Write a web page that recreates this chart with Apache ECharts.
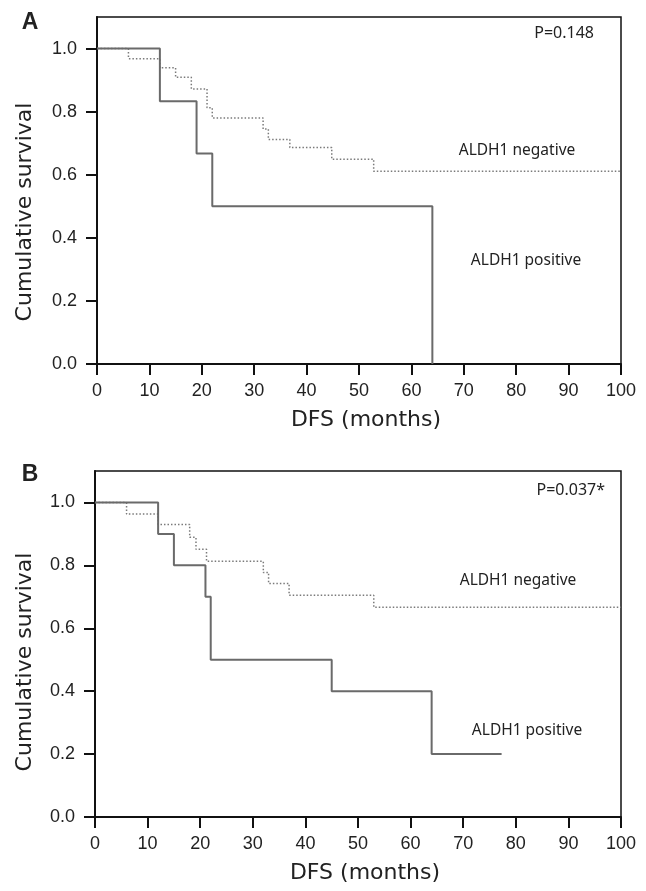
<!DOCTYPE html>
<html>
<head>
<meta charset="utf-8">
<script src="https://cdn.jsdelivr.net/npm/echarts@6/dist/echarts.min.js"></script>
<style>
  html, body { margin: 0; padding: 0; background: #fff; }
  #main { width: 646px; height: 891px; }
</style>
</head>
<body>
<div id="main"></div>
<script>
// Panel A: [months, cumulative survival]
const negA = [[0, 1], [6, 0.968], [12, 0.939], [15, 0.909], [18, 0.872], [21, 0.812], [22, 0.78],
  [31.7, 0.745], [32.7, 0.712], [36.8, 0.686], [44.8, 0.649], [52.8, 0.611], [100, 0.611]];
const posA = [[0, 1], [12, 0.833], [19, 0.667], [22, 0.5], [64, 0]];
// Panel B
const negB = [[0, 1], [6, 0.963], [12, 0.93], [18, 0.889], [19.2, 0.851], [21.2, 0.813],
  [32, 0.777], [33, 0.742], [36.9, 0.705], [53, 0.667], [100, 0.667]];
const posB = [[0, 1], [12, 0.9], [15, 0.8], [21, 0.7], [22, 0.5], [45, 0.4], [64, 0.2], [77.3, 0.2]];

const yTicks = [0, 0.2, 0.4, 0.6, 0.8, 1.0];
const pValues = ['P=0.148', 'P=0.037*'];

const myChart = echarts.init(document.getElementById('main'));

const tickFont = { fontFamily: 'Liberation Sans', fontSize: 18, color: '#222' };
const labelFont = 'Noto Sans';

function xAxis(gridIndex) {
    return {
        type: 'value', gridIndex: gridIndex, min: 0, max: 100, interval: 10,
        name: 'DFS (months)', nameLocation: 'middle', nameGap: 45,
        nameTextStyle: { fontFamily: 'DejaVu Sans', fontSize: 22, color: '#222', padding: [0, 0, 0, 14] },
        axisLine: { lineStyle: { color: '#111', width: 2 } },
        axisTick: { length: 11, lineStyle: { color: '#111', width: 2 } },
        axisLabel: Object.assign({ margin: 18 }, tickFont),
        splitLine: { show: false }
    };
}

function yAxis(gridIndex) {
    return {
        type: 'value', gridIndex: gridIndex, min: 0, max: 1.1, interval: 0.2,
        axisLine: { show: true, lineStyle: { color: '#111', width: 2 } },
        axisTick: { show: true, length: 11, customValues: yTicks, lineStyle: { color: '#111', width: 2 } },
        axisLabel: Object.assign({
            margin: 20, customValues: yTicks,
            formatter: v => v.toFixed(1)
        }, tickFont),
        splitLine: { show: false }
    };
}

function solid(data, i) {
    return {
        type: 'line', step: 'end', data: data, xAxisIndex: i, yAxisIndex: i,
        symbol: 'none', silent: true,
        lineStyle: { color: '#6a6a6a', width: 2 }
    };
}

function dotted(data, i) {
    return {
        type: 'line', step: 'end', data: data, xAxisIndex: i, yAxisIndex: i,
        symbol: 'none', silent: true,
        lineStyle: { color: '#7a7a7a', width: 1.5, type: [1.5, 2] }
    };
}

function txt(text, x, y, opts) {
    return {
        type: 'text', x: x, y: y, rotation: (opts && opts.rotation) || 0,
        style: {
            text: text, x: 0, y: 0,
            align: (opts && opts.align) || 'center', verticalAlign: 'middle',
            font: (opts && opts.font) || ('15.5px "' + labelFont + '"'),
            fill: '#222'
        }
    };
}

const option = {
    animation: false,
    grid: [
        { left: 97, top: 17, right: 25, bottom: 527, show: true, borderColor: '#111', borderWidth: 1.5 },
        { left: 95, top: 471, right: 25, bottom: 74, show: true, borderColor: '#111', borderWidth: 1.5 }
    ],
    xAxis: [xAxis(0), xAxis(1)],
    yAxis: [yAxis(0), yAxis(1)],
    series: [dotted(negA, 0), solid(posA, 0), dotted(negB, 1), solid(posB, 1)],
    graphic: [
        txt('A', 30, 23, { font: 'bold 23px "Liberation Sans"' }),
        txt('B', 30, 475, { font: 'bold 23px "Liberation Sans"' }),
        txt('Cumulative survival', 25, 212, { rotation: Math.PI / 2, font: '22px "DejaVu Sans"' }),
        txt('Cumulative survival', 25, 662, { rotation: Math.PI / 2, font: '22px "DejaVu Sans"' }),
        txt(pValues[0], 594, 33, { align: 'right', font: '16px "' + labelFont + '"' }),
        txt(pValues[1], 605, 490, { align: 'right', font: '16px "' + labelFont + '"' }),
        txt('ALDH1 negative', 517, 151),
        txt('ALDH1 positive', 526, 261),
        txt('ALDH1 negative', 518, 581),
        txt('ALDH1 positive', 527, 731)
    ]
};
myChart.setOption(option);
</script>
</body>
</html>
